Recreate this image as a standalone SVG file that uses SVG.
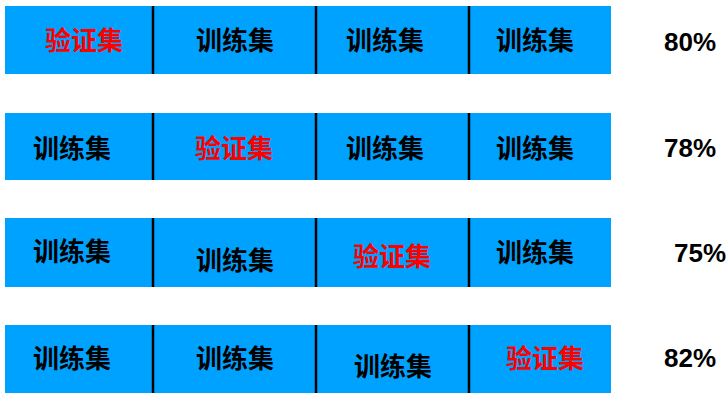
<svg xmlns="http://www.w3.org/2000/svg" width="727" height="400" viewBox="0 0 727 400">
<style>
.bar{fill:#00A2FF}
.div{stroke:#000;stroke-width:2.5}
.t{font-family:"Noto Sans CJK SC","Liberation Sans",sans-serif;font-size:26px;font-weight:bold;text-anchor:middle;fill:#000}
.v{fill:#FF0000}
.p{font-family:"Liberation Sans",Arial,sans-serif;font-size:26px;font-weight:bold;text-anchor:middle;fill:#000}
</style>
<rect width="727" height="400" fill="#fff"/>
<g id="row1">
<rect class="bar" x="5" y="6" width="606" height="68"/>
<line class="div" x1="153" y1="6" x2="153" y2="74"/>
<line class="div" x1="316" y1="6" x2="316" y2="74"/>
<line class="div" x1="469" y1="6" x2="469" y2="74"/>
<text class="t v" x="84" y="50">验证集</text>
<text class="t" x="235" y="50">训练集</text>
<text class="t" x="385" y="50">训练集</text>
<text class="t" x="535" y="50">训练集</text>
<text class="p" x="690" y="51">80%</text>
</g>
<g id="row2">
<rect class="bar" x="5" y="113" width="606" height="67"/>
<line class="div" x1="153" y1="113" x2="153" y2="180"/>
<line class="div" x1="316" y1="113" x2="316" y2="180"/>
<line class="div" x1="469" y1="113" x2="469" y2="180"/>
<text class="t" x="72" y="158">训练集</text>
<text class="t v" x="234" y="158">验证集</text>
<text class="t" x="385" y="158">训练集</text>
<text class="t" x="535" y="158">训练集</text>
<text class="p" x="690" y="157">78%</text>
</g>
<g id="row3">
<rect class="bar" x="5" y="218" width="606" height="69"/>
<line class="div" x1="153" y1="218" x2="153" y2="287"/>
<line class="div" x1="316" y1="218" x2="316" y2="287"/>
<line class="div" x1="469" y1="218" x2="469" y2="287"/>
<text class="t" x="72" y="261">训练集</text>
<text class="t" x="235" y="270">训练集</text>
<text class="t v" x="392" y="266">验证集</text>
<text class="t" x="535" y="262">训练集</text>
<text class="p" x="700" y="262">75%</text>
</g>
<g id="row4">
<rect class="bar" x="5" y="325" width="606" height="68"/>
<line class="div" x1="153" y1="325" x2="153" y2="393"/>
<line class="div" x1="316" y1="325" x2="316" y2="393"/>
<line class="div" x1="469" y1="325" x2="469" y2="393"/>
<text class="t" x="72" y="368">训练集</text>
<text class="t" x="235" y="368">训练集</text>
<text class="t" x="393" y="376">训练集</text>
<text class="t v" x="545" y="368">验证集</text>
<text class="p" x="690" y="367">82%</text>
</g>
</svg>
